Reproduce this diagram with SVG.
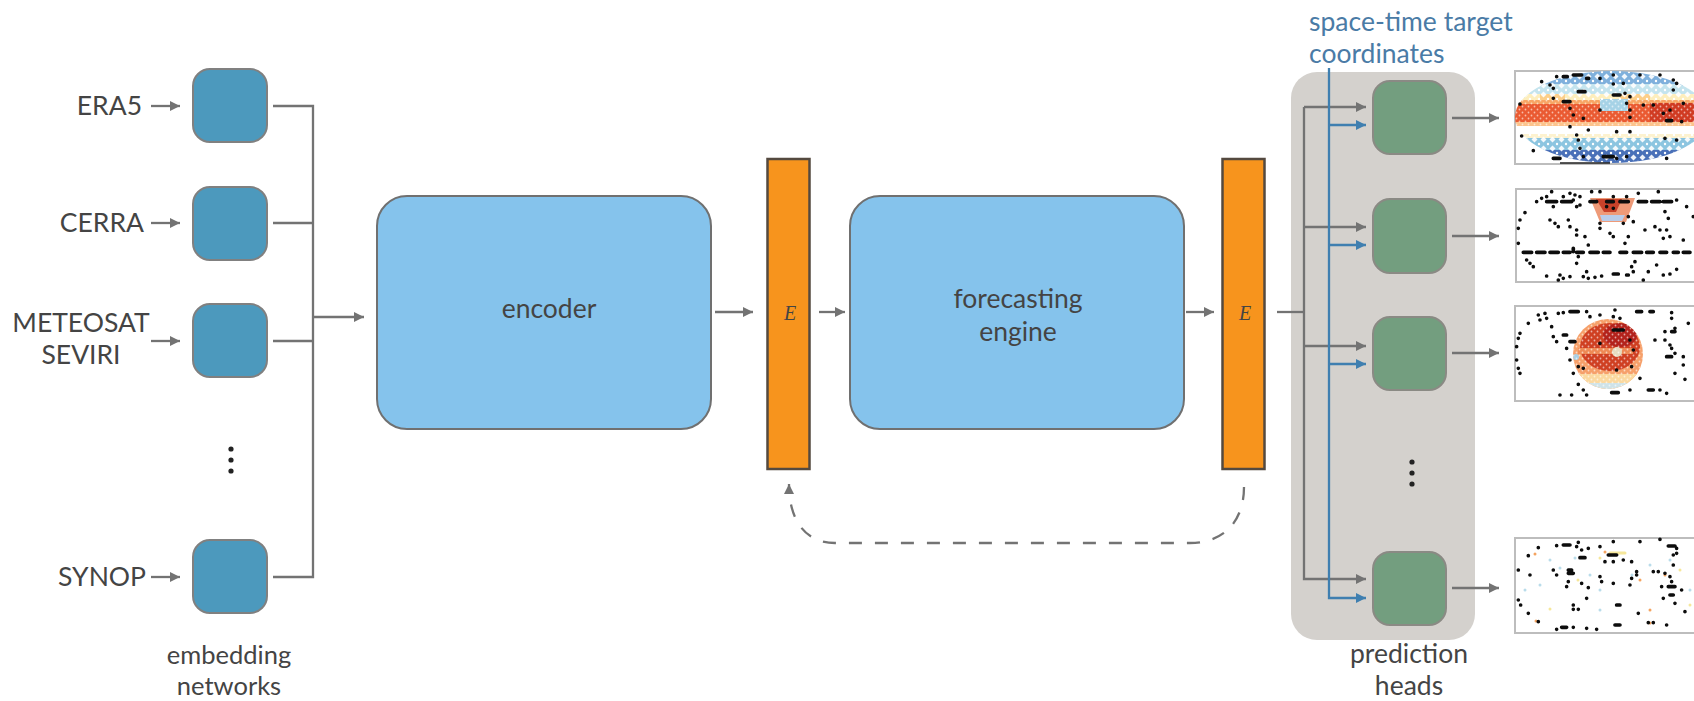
<svg xmlns="http://www.w3.org/2000/svg" width="1694" height="701" viewBox="0 0 1694 701">
<style>
text{font-family:"Lato","Open Sans",sans-serif;font-size:26.500px;fill:#444}
.m{text-anchor:middle}.e{text-anchor:end}
.c{fill:none;stroke:#737373;stroke-width:2.300}
.a{marker-end:url(#ga)}
.b{fill:none;stroke:#3f7fb0;stroke-width:2.300}
.ba{marker-end:url(#ba)}
.emb{fill:#4c99bd;stroke:#808080;stroke-width:2}
.big{fill:#85c3ec;stroke:#707070;stroke-width:2}
.bar{fill:#f7941d;stroke:#54493f;stroke-width:2.500}
.head{fill:#739e7f;stroke:#8a8a84;stroke-width:2}
.frame{fill:#fff;stroke:#bdbdbd;stroke-width:2}
.blk{fill:none;stroke:#0a0a0a;stroke-width:11;stroke-linecap:round}
.dd{fill:#222}
.ser{font-family:"Liberation Serif",serif;font-style:italic;font-size:20px;text-anchor:middle}
.lb{fill:#4a7ba6}
.sm{font-size:25.500px}
</style>
<defs>
<marker id="ga" markerUnits="userSpaceOnUse" markerWidth="12" markerHeight="11" refX="10" refY="5.500" orient="auto"><path d="M0 .5L10 5.500L0 10.500z" fill="#737373"/></marker>
<marker id="ba" markerUnits="userSpaceOnUse" markerWidth="12" markerHeight="11" refX="10" refY="5.500" orient="auto"><path d="M0 .5L10 5.500L0 10.500z" fill="#3f7fb0"/></marker>
<filter id="s" x="-5%" y="-5%" width="110%" height="110%"><feGaussianBlur stdDeviation="0.7"/></filter>
<clipPath id="ell"><ellipse cx="1612" cy="117" rx="97" ry="46"/></clipPath>
<clipPath id="disk"><circle cx="1608" cy="354" r="35"/></clipPath>
<pattern id="holes" width="6" height="6" patternUnits="userSpaceOnUse"><circle cx="1.500" cy="1.500" r=".9" fill="#fff" fill-opacity=".6"/><circle cx="4.500" cy="4.500" r=".9" fill="#fff" fill-opacity=".6"/></pattern>
<pattern id="holes2" width="9" height="9" patternUnits="userSpaceOnUse"><path d="M4.500 1.500L7.500 4.500L4.500 7.500L1.500 4.500z" fill="#fff" fill-opacity=".9"/><circle cx="0" cy="0" r="1.200" fill="#fff"/><circle cx="9" cy="0" r="1.200" fill="#fff"/><circle cx="0" cy="9" r="1.200" fill="#fff"/><circle cx="9" cy="9" r="1.200" fill="#fff"/></pattern>
</defs>

<g id="inputs-labels">
<text class="e" x="142" y="115">ERA5</text>
<text class="e" x="144" y="232">CERRA</text>
<text class="m" x="81" y="332">METEOSAT</text>
<text class="m" x="81" y="364">SEVIRI</text>
<text class="e" x="146" y="586">SYNOP</text>
<text class="m sm" x="229" y="664">embedding</text>
<text class="m sm" x="229" y="695">networks</text>
</g>

<rect id="prediction-panel" x="1291" y="72" width="184" height="568" rx="26" fill="#d4d1cd"/>

<g id="connectors">
<path class="c a" d="M151 106H180"/>
<path class="c a" d="M151 223H180"/>
<path class="c a" d="M151 341H180"/>
<path class="c a" d="M151 577H180"/>
<path class="c" d="M273 106H313V577H273M273 223H313M273 341H313"/>
<path class="c a" d="M313 317H364"/>
<path class="c a" d="M715 312H753"/>
<path class="c a" d="M819 312H845"/>
<path class="c a" d="M1186 312H1214"/>
<path class="c" d="M1277 312H1304"/>
<path class="c a" d="M1304 107H1366"/>
<path class="c a" d="M1304 107V579H1366"/>
<path class="c a" d="M1304 227H1366"/>
<path class="c a" d="M1304 346H1366"/>
<path class="b ba" d="M1329 68V598H1366"/>
<path class="b ba" d="M1329 125H1366"/>
<path class="b ba" d="M1329 245H1366"/>
<path class="b ba" d="M1329 364H1366"/>
<path class="c a" d="M1452 118H1499"/>
<path class="c a" d="M1452 236H1499"/>
<path class="c a" d="M1452 353H1499"/>
<path class="c a" d="M1452 588H1499"/>
<path class="c a" stroke-dasharray="13 13" d="M1244 487C1244 520 1225 543 1190 543H835C805 543 789 520 789 484"/>
</g>

<g id="embed-era5"><rect class="emb" x="193" y="69" width="74" height="73" rx="17"/></g>
<g id="embed-cerra"><rect class="emb" x="193" y="187" width="74" height="73" rx="17"/></g>
<g id="embed-seviri"><rect class="emb" x="193" y="304" width="74" height="73" rx="17"/></g>
<g id="embed-synop"><rect class="emb" x="193" y="540" width="74" height="73" rx="17"/></g>
<g id="embed-dots"><circle class="dd" cx="231" cy="449" r="2.600"/><circle class="dd" cx="231" cy="460" r="2.600"/><circle class="dd" cx="231" cy="471" r="2.600"/></g>

<g id="encoder"><rect class="big" x="377" y="196" width="334" height="233" rx="30"/><text class="m" x="549" y="318">encoder</text></g>
<g id="latent-1"><rect class="bar" x="767.500" y="159" width="42" height="310"/><text class="ser" x="790" y="320">E</text></g>
<g id="forecasting-engine"><rect class="big" x="850" y="196" width="334" height="233" rx="30"/><text class="m" x="1018" y="308">forecasting</text><text class="m" x="1018" y="341">engine</text></g>
<g id="latent-2"><rect class="bar" x="1222.500" y="159" width="42" height="310"/><text class="ser" x="1245" y="320">E</text></g>

<g id="head-1"><rect class="head" x="1373" y="81" width="73" height="73" rx="17"/></g>
<g id="head-2"><rect class="head" x="1373" y="199" width="73" height="74" rx="17"/></g>
<g id="head-3"><rect class="head" x="1373" y="317" width="73" height="73" rx="17"/></g>
<g id="head-4"><rect class="head" x="1373" y="552" width="73" height="73" rx="17"/></g>
<g id="head-dots"><circle class="dd" cx="1412" cy="462" r="2.600"/><circle class="dd" cx="1412" cy="473" r="2.600"/><circle class="dd" cx="1412" cy="484" r="2.600"/></g>

<g id="target-label">
<text class="lb" x="1309" y="31">space-time target</text>
<text class="lb" x="1309" y="63">coordinates</text>
</g>
<g id="prediction-label"><text class="m" x="1409" y="663">prediction</text><text class="m" x="1409" y="695">heads</text></g>

<g id="map-1" filter="url(#s)">
<path class="frame" d="M1694 71H1515V164H1694"/>
<g clip-path="url(#ell)">
<rect x="1510" y="71" width="190" height="15" fill="#7fb0dc"/>
<rect x="1510" y="84" width="190" height="14" fill="#c4e4ee"/>
<rect x="1510" y="94" width="190" height="7" fill="#fdeebd"/>
<path d="M1540 94h25v8h-25zM1620 94h30v8h-30z" fill="#fccf8a"/>
<rect x="1510" y="100" width="190" height="6" fill="#f8a565"/>
<rect x="1510" y="104" width="190" height="20" fill="#ea5a30"/>
<rect x="1600" y="99" width="28" height="12" fill="#a6d2e6"/>
<rect x="1650" y="103" width="50" height="20" fill="#d03a22"/>
<rect x="1510" y="122" width="190" height="4" fill="#fcc38c"/>
<rect x="1510" y="134" width="190" height="6" fill="#fdf2cf"/>
<rect x="1510" y="138" width="190" height="12" fill="#8cc5e0"/>
<rect x="1510" y="150" width="190" height="14" fill="#4a70b8"/>
<rect x="1510" y="71" width="190" height="29" fill="url(#holes2)"/>
<rect x="1510" y="100" width="190" height="26" fill="url(#holes)"/>
<rect x="1510" y="133" width="190" height="31" fill="url(#holes2)"/>
</g>
<path class="blk" transform="translate(1410 60) scale(.3333)" d="M395 65h0M420 75h0M440 50h0M460 50h12M490 45h25M530 55h6M570 55h0M610 45h0M690 45h0M750 45h0M790 60h0M800 70h0M430 85h0M505 95h20M610 72h0M640 70h0M790 90h0M610 105h20M645 100h0M660 110h0M430 115h0M460 125h20M330 132h0M480 145h0M490 165h0M520 175h0M570 150h0M650 130h0M660 150h0M660 172h0M700 135h0M730 135h0M760 160h0M780 150h0M770 182h15M820 130h0M815 185h0M480 200h0M535 210h0M500 225h0M620 215h0M660 215h0M765 235h0M800 240h0M335 228h0M370 272h0M510 265h0M505 240h0M430 295h20M520 290h0M580 290h30M620 295h0M770 295h0M650 290h0"/>
<path d="M1560 163h50" stroke="#222" stroke-width="1.500"/>
</g>

<g id="map-2" filter="url(#s)">
<path class="frame" d="M1694 189H1516V282H1694"/>
<path d="M1590 198H1635L1626 222H1600z" fill="#ee9a78"/>
<path d="M1596 199H1622L1616 212H1604z" fill="#c9422a"/>
<path d="M1600 215H1625L1622 221H1602z" fill="#b9cdea"/>
<path class="blk" transform="translate(1280 0) scale(.3333)" d="M770 605h0M785 595h0M800 590h0M850 590h0M870 580h0M885 585h0M900 590h0M880 600h0M900 615h0M890 620h0M935 575h0M815 575h0M820 620h0M960 575h0M1000 590h0M1040 590h0M1075 580h0M1135 575h0M1190 600h0M1000 625h0M980 620h0M1060 665h0M1045 650h0M1030 670h0M735 638h0M720 660h0M715 685h0M810 660h0M825 670h0M835 680h0M865 660h0M870 680h0M890 690h0M890 705h0M915 710h0M925 735h0M960 670h0M960 685h0M990 700h0M1000 710h0M1045 710h0M1035 730h0M1095 690h0M1125 680h0M1140 690h0M1160 690h0M1170 710h0M1150 715h0M1210 720h0M1165 655h0M1155 635h0M1220 620h0M1240 650h0M715 730h0M800 605h30M845 605h30M930 605h20M980 605h20M1020 605h25M1075 605h25M1115 605h25M1150 605h25M730 757h25M770 757h25M810 757h25M850 757h20M880 745v10M890 757h20M930 757h25M970 757h20M1020 757h20M1060 757h25M1100 757h20M1140 757h20M1180 757h15M1210 757h20M740 780h0M750 790h0M760 800h0M895 770h0M890 790h0M1065 785h0M1055 800h0M1040 825h0M1000 822h15M920 815h0M910 830h0M925 835h0M945 832h0M965 828h0M870 830h0M840 825h0M850 835h0M800 828h0M835 840h0M1130 795h0M1190 808h0M1150 825h0M1170 822h0M1105 815h0M1090 840h0M1060 815h0M1045 825h0"/>
</g>

<g id="map-3" filter="url(#s)">
<path class="frame" d="M1694 306H1515V401H1694"/>
<g clip-path="url(#disk)">
<rect x="1570" y="316" width="76" height="76" fill="#f6a06a"/>
<rect x="1570" y="374" width="76" height="18" fill="#fbd9a0"/>
<path d="M1585 383h46v9h-46z" fill="#cfe3e8"/>
<ellipse cx="1610" cy="347" rx="30" ry="24" fill="#cf3f24"/>
<ellipse cx="1620" cy="335" rx="17" ry="12" fill="#b3221c"/>
<path d="M1578 348h55v6h-55z" fill="#ee8a55"/>
<circle cx="1617" cy="352" r="5" fill="#e6dcc0"/>
<circle cx="1576" cy="357" r="3" fill="#a9cfe4"/>
<rect x="1570" y="316" width="76" height="76" fill="url(#holes)"/>
</g>
<path class="blk" transform="translate(1280 290) scale(.3333)" d="M775 75h0M795 70h0M800 85h0M835 70h0M850 68h0M870 65h25M920 65h0M930 80h0M960 75h0M1005 60h0M1000 80h0M1020 85h0M1070 65h15M1110 65h10M1175 68h0M1175 85h0M1225 100h0M745 100h0M780 90h0M720 130h0M715 145h0M710 170h0M710 210h0M715 235h0M720 250h0M815 110h0M820 140h0M850 135h10M830 155h0M860 175h0M870 155h15M870 210h0M880 250h0M895 230h0M1155 125h0M1175 125h10M1185 115h0M1125 150h0M1155 150h0M1170 165h0M1175 175h0M1185 190h0M1160 200h15M1210 200h0M1210 225h0M1185 250h0M1215 268h0M1080 265h0M840 315h0M875 315h0M895 283h0M910 300h0M920 315h0M995 308h20M1050 300h0M1105 300h15M1160 310h0M1140 300h0M1000 120h30M1050 150h0M1060 180h0M960 160h0M910 235h0M1055 230h0M1010 240h0"/>
</g>

<g id="map-4" filter="url(#s)">
<path class="frame" d="M1694 538H1515V633H1694"/>
<path d="M1550 560h0M1560 568h0M1575 558h0M1590 575h0M1600 590h0M1540 585h0M1525 590h0M1650 565h0M1670 560h0M1632 575h0M1600 610h0M1690 590h0" fill="none" stroke="#b9dcea" stroke-width="3" stroke-linecap="round"/>
<path d="M1535 554h0M1605 552h0M1640 580h0M1650 610h0M1536 621h0M1650 623h0M1665 575h0" fill="none" stroke="#f4a35f" stroke-width="3" stroke-linecap="round"/>
<path d="M1610 553h15M1600 558h0M1680 570h0M1550 609h0M1578 580h0M1690 605h0" fill="none" stroke="#f6e79a" stroke-width="3" stroke-linecap="round"/>
<path class="blk" transform="translate(1280 290) scale(.3333)" d="M775 773h0M830 767h0M850 765h20M895 757h0M890 770h0M905 780h0M925 775h0M960 770h0M1000 755h0M1080 755h0M1140 748h0M1165 768h20M1190 775h0M745 797h0M900 803h15M985 795h25M975 815h0M1000 815h0M1030 810h0M1055 815h0M715 840h0M750 855h0M820 840h0M830 855h0M865 840h10M865 850h15M865 875h0M860 890h0M905 880h0M925 893h0M960 860h0M965 875h0M1000 880h0M1055 865h0M1050 885h0M1070 845h0M1070 855h0M1120 845h0M1155 850h0M1170 860h0M1175 875h0M1145 890h0M1165 890h20M1180 795h0M1190 790h0M1180 825h0M1135 845h0M1205 900h0M1170 915h10M1150 925h0M715 930h0M722 945h0M745 970h0M775 995h0M880 945h0M920 925h0M880 958h0M895 958h0M1010 945h10M1005 1005h15M1075 970h0M1185 940h0M1215 965h0M1105 998h0M1120 998h0M1160 1005h0M830 1018h0M845 1012h15M880 1012h0M920 1015h0M950 1018h0"/>
</g>
</svg>
